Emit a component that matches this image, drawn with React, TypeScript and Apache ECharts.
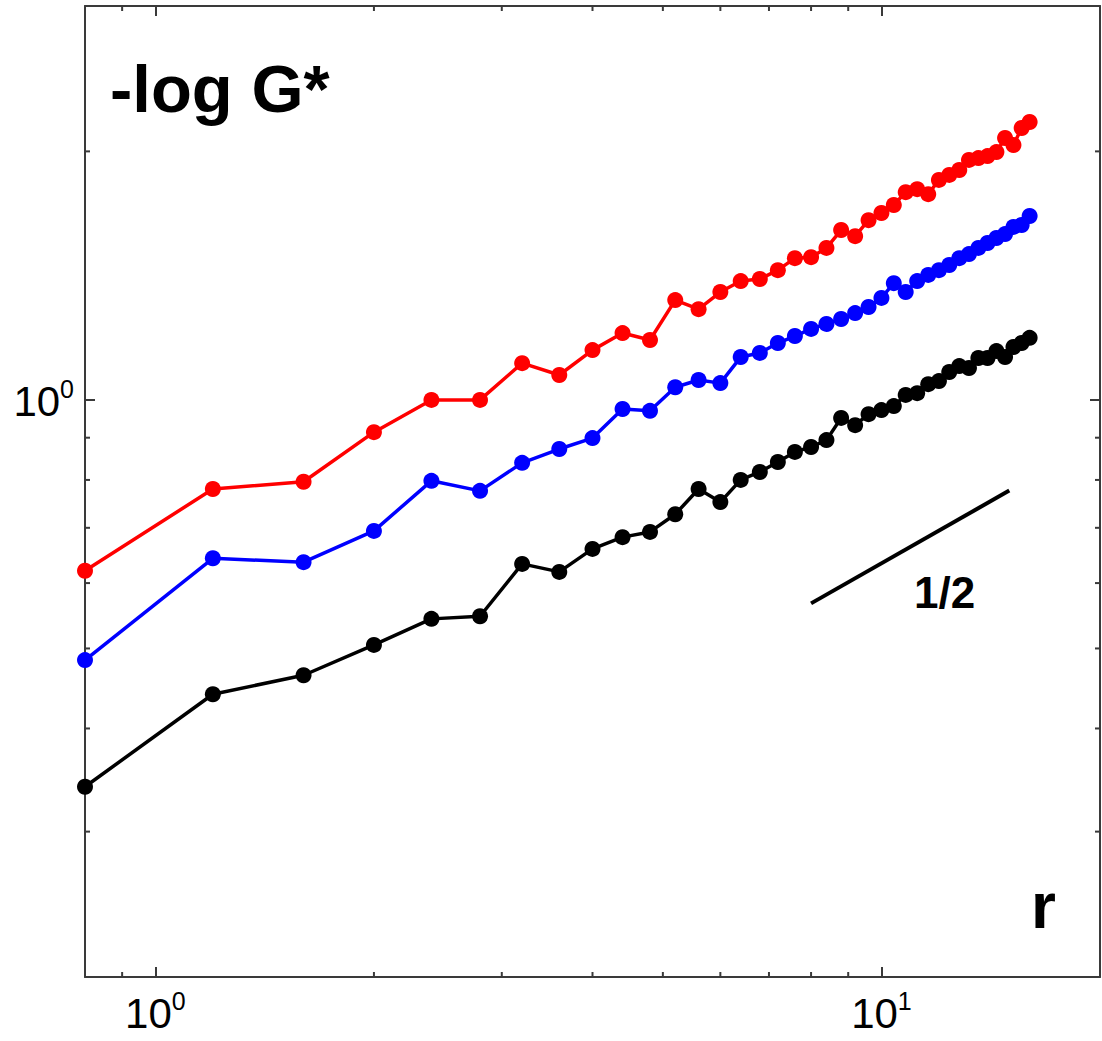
import React, { useEffect, useRef } from "react";
import * as echarts from "echarts";

const FONT = "'Liberation Sans', Arial, Helvetica, sans-serif";

const X_MIN = 0.8;
const X_MAX = 20;
const Y_MIN = 0.2;
const Y_MAX = 3;

const rValues = [
  0.8, 1.2, 1.6, 2.0, 2.4, 2.8, 3.2, 3.6, 4.0, 4.4,
  4.8, 5.2, 5.6, 6.0, 6.4, 6.8, 7.2, 7.6, 8.0, 8.4,
  8.8, 9.2, 9.6, 10.0, 10.4, 10.8, 11.2, 11.6, 12.0, 12.4,
  12.8, 13.2, 13.6, 14.0, 14.4, 14.8, 15.2, 15.6, 16.0,
];

const redValues = [
  0.621, 0.78, 0.796, 0.914, 1.0, 1.0, 1.108, 1.072, 1.149, 1.205,
  1.182, 1.321, 1.288, 1.351, 1.393, 1.401, 1.436, 1.485, 1.489, 1.528,
  1.606, 1.579, 1.651, 1.684, 1.722, 1.785, 1.8, 1.775, 1.847, 1.873,
  1.899, 1.953, 1.963, 1.974, 1.996, 2.076, 2.036, 2.135, 2.171,
];

const blueValues = [
  0.484, 0.643, 0.636, 0.694, 0.798, 0.776, 0.839, 0.872, 0.899, 0.975,
  0.97, 1.036, 1.057, 1.048, 1.127, 1.14, 1.172, 1.195, 1.219, 1.236,
  1.253, 1.274, 1.296, 1.329, 1.385, 1.351, 1.393, 1.417, 1.436, 1.457,
  1.485, 1.502, 1.528, 1.549, 1.571, 1.588, 1.62, 1.629, 1.67,
];

const blackValues = [
  0.34, 0.44, 0.464, 0.505, 0.543, 0.547, 0.633, 0.619, 0.66, 0.682,
  0.692, 0.727, 0.78, 0.752, 0.8, 0.818, 0.841, 0.865, 0.877, 0.894,
  0.951, 0.932, 0.961, 0.972, 0.983, 1.014, 1.019, 1.045, 1.054, 1.081,
  1.099, 1.093, 1.124, 1.124, 1.146, 1.127, 1.159, 1.172, 1.189,
];

const slopeX = [8, 15];
const slopeY = [0.567, 0.7766];

const xMinorTicks = [0.9, 2, 3, 4, 5, 6, 7, 8, 9];
const yMinorTicks = [0.3, 0.4, 0.5, 0.6, 0.7, 0.8, 0.9, 2];

const AXIS_COLOR = "#3a3a3a";

function pairs(xs: number[], ys: number[]) {
  return xs.map((x, i) => [x, ys[i]]);
}

function powLabel(value: number) {
  const e = Math.log10(value);
  if (Math.abs(e - Math.round(e)) > 1e-6) return "";
  return `{b|10}{s|${Math.round(e)}}`;
}

const labelRich = {
  b: { fontSize: 42, fontFamily: FONT, color: "#000", lineHeight: 46, verticalAlign: "bottom" },
  s: { fontSize: 25, fontFamily: FONT, color: "#000", lineHeight: 24, verticalAlign: "top" },
};

export default function App() {
  const ref = useRef<HTMLDivElement>(null);

  useEffect(() => {
    if (!ref.current) return;
    const chart = echarts.init(ref.current, undefined, { renderer: "svg" });

    const baseAxis = {
      type: "log" as const,
      logBase: 10,
      splitLine: { show: false },
      axisLine: { show: true, lineStyle: { color: AXIS_COLOR, width: 2 } },
      axisTick: { show: true, inside: true, length: 10, lineStyle: { color: AXIS_COLOR, width: 2 } },
    };

    const lineSeries = (name: string, color: string, ys: number[]) => ({
      name,
      type: "line",
      xAxisIndex: 0,
      yAxisIndex: 0,
      data: pairs(rValues, ys),
      symbol: "circle",
      symbolSize: 16,
      lineStyle: { color, width: 3.5 },
      itemStyle: { color },
      z: 3,
    });

    const tickStyle = { stroke: AXIS_COLOR, lineWidth: 2 };

    chart.setOption({
      animation: false,
      backgroundColor: "#ffffff",
      grid: { left: 85, right: 2, top: 6, bottom: 64, containLabel: false },
      xAxis: [
        {
          ...baseAxis,
          position: "bottom",
          min: X_MIN,
          max: X_MAX,
          axisLabel: {
            show: true,
            margin: 11,
            formatter: powLabel,
            rich: labelRich,
            showMinLabel: false,
            showMaxLabel: false,
          },
        },
        {
          ...baseAxis,
          position: "top",
          min: X_MIN,
          max: X_MAX,
          axisLabel: { show: false },
        },
      ],
      yAxis: [
        {
          ...baseAxis,
          position: "left",
          min: Y_MIN,
          max: Y_MAX,
          axisLabel: {
            show: true,
            margin: 11,
            formatter: powLabel,
            rich: labelRich,
            showMinLabel: false,
            showMaxLabel: false,
          },
        },
        {
          ...baseAxis,
          position: "right",
          min: Y_MIN,
          max: Y_MAX,
          axisLabel: { show: false },
        },
      ],
      series: [
        lineSeries("red", "#ff0000", redValues),
        lineSeries("blue", "#0000ff", blueValues),
        lineSeries("black", "#000000", blackValues),
        {
          name: "slope",
          type: "line",
          data: pairs(slopeX, slopeY),
          symbol: "none",
          lineStyle: { color: "#000", width: 4 },
          z: 2,
        },
        {
          name: "xMinor",
          type: "custom",
          data: xMinorTicks.map((v) => [v, 1]),
          silent: true,
          renderItem: (_p: any, api: any) => {
            const v = api.value(0);
            const b = api.coord([v, Y_MIN]);
            const t = api.coord([v, Y_MAX]);
            return {
              type: "group",
              children: [
                { type: "line", shape: { x1: b[0], y1: b[1], x2: b[0], y2: b[1] - 5 }, style: tickStyle },
                { type: "line", shape: { x1: t[0], y1: t[1], x2: t[0], y2: t[1] + 5 }, style: tickStyle },
              ],
            };
          },
        },
        {
          name: "yMinor",
          type: "custom",
          data: yMinorTicks.map((v) => [1, v]),
          silent: true,
          renderItem: (_p: any, api: any) => {
            const v = api.value(1);
            const l = api.coord([X_MIN, v]);
            const r = api.coord([X_MAX, v]);
            return {
              type: "group",
              children: [
                { type: "line", shape: { x1: l[0], y1: l[1], x2: l[0] + 5, y2: l[1] }, style: tickStyle },
                { type: "line", shape: { x1: r[0], y1: r[1], x2: r[0] - 5, y2: r[1] }, style: tickStyle },
              ],
            };
          },
        },
      ],
      graphic: [
        {
          type: "text",
          x: 110,
          y: 88,
          style: {
            text: "-log G*",
            font: `bold 67px ${FONT}`,
            fill: "#000",
            verticalAlign: "middle",
            align: "left",
          },
        },
        {
          type: "text",
          x: 1031,
          y: 906,
          style: {
            text: "r",
            font: `bold 64px ${FONT}`,
            fill: "#000",
            verticalAlign: "middle",
            align: "left",
          },
        },
        {
          type: "text",
          x: 914,
          y: 592,
          style: {
            text: "1/2",
            font: `bold 44px ${FONT}`,
            fill: "#000",
            verticalAlign: "middle",
            align: "left",
          },
        },
      ],
    });

    return () => chart.dispose();
  }, []);

  return (
    <div
      ref={ref}
      style={{ position: "absolute", left: 0, top: 0, width: 1102, height: 1041, background: "#fff" }}
    />
  );
}
